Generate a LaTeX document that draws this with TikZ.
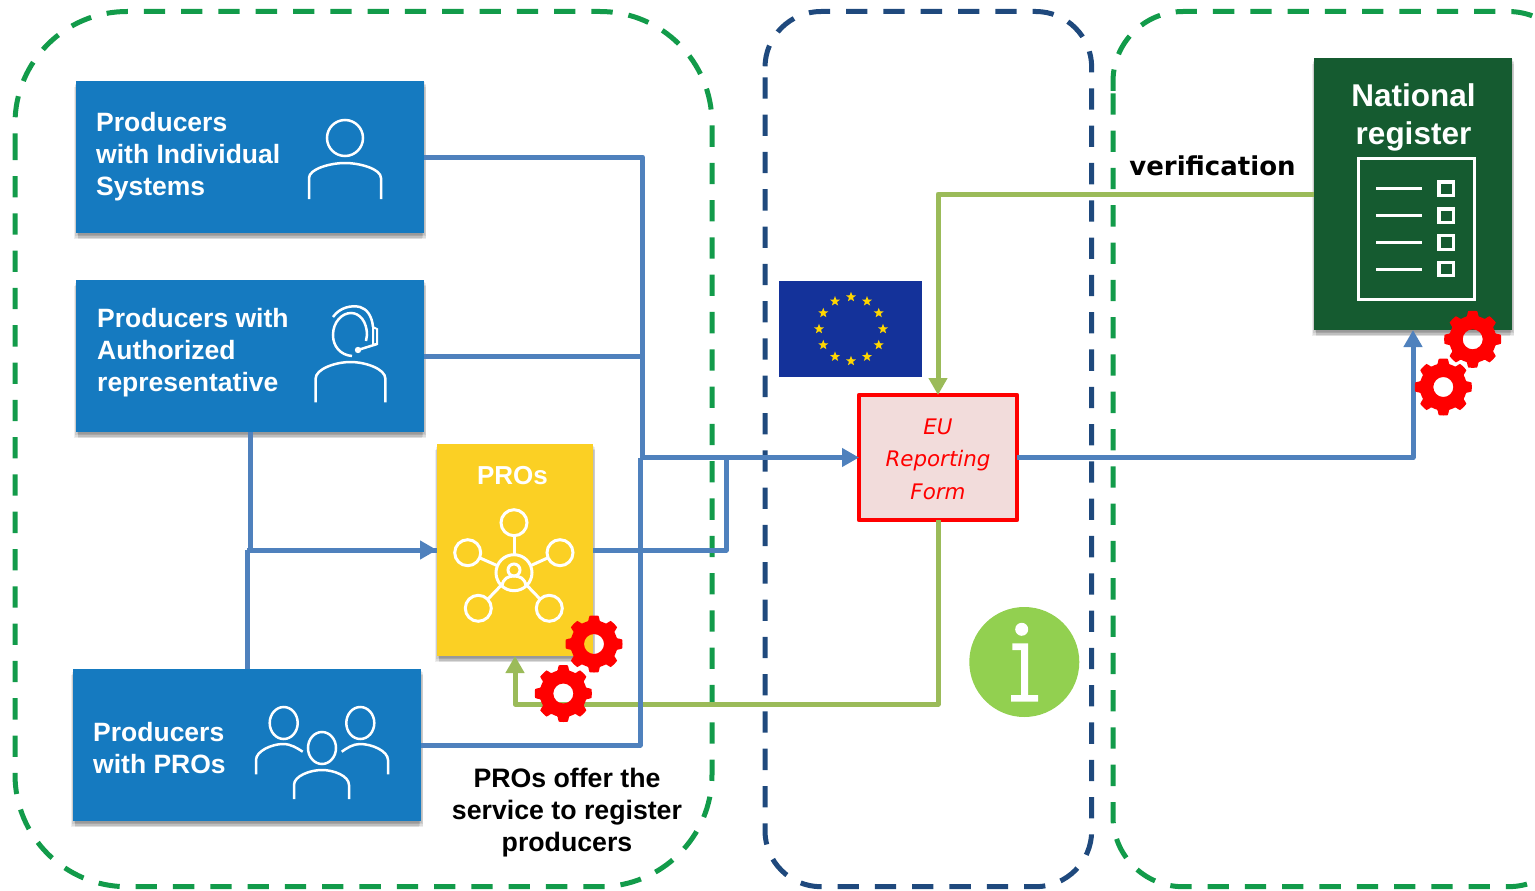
\documentclass[tikz,border=0pt]{standalone}
\usepackage{fontspec}
\setmainfont{Liberation Sans}
\newfontfamily\dejavu{DejaVu Sans}
\usetikzlibrary{arrows.meta,shadows,shapes.geometric,calc}
\definecolor{boxblue}{HTML}{157AC0}
\definecolor{lineblue}{HTML}{4F81BD}
\definecolor{linegreen}{HTML}{9BBB59}
\definecolor{dashgreen}{HTML}{129B4A}
\definecolor{dashnavy}{HTML}{1F497D}
\definecolor{proyellow}{HTML}{FBD024}
\definecolor{natgreen}{HTML}{155B30}
\definecolor{flagblue}{HTML}{14329A}
\definecolor{infogreen}{HTML}{92D050}
\definecolor{formfill}{HTML}{F2DCDB}
\definecolor{stargold}{HTML}{FFD600}
\tikzset{
  frame/.style={line width=5pt,dash pattern=on 21.3pt off 16pt},
  softlayer/.style 2 args={general shadow={shadow xshift=#1pt,shadow yshift=#2pt,fill=black,opacity=.07}},
  shadowed/.style={softlayer={2}{-6},softlayer={-2}{-6},softlayer={2}{-4.5},softlayer={-1.5}{-4.5},softlayer={1.5}{-3},softlayer={-1}{-3},softlayer={.5}{-1.5}},
  panel/.style={shadowed,inner sep=0pt,outer sep=0pt},
  bluebox/.style={panel,fill=boxblue,minimum width=348pt,minimum height=152pt},
  boxtext/.style={text=white,font=\fontsize{26.5}{32}\selectfont\bfseries,align=left,inner sep=0pt},
  icon/.style={draw=white,line width=2.5pt},
  bluewire/.style={draw=lineblue,line width=5pt,line join=round},
  greenwire/.style={draw=linegreen,line width=5pt,line join=round},
  tipped/.style={-{Triangle[length=17pt,width=18pt]}},
}
\newcommand{\bust}[4]{% cx, top, xscale, yscale
  \draw[icon,shift={(#1,#2)},xscale=#3,yscale=#4] (-36,36) -- (-36,15) .. controls (-36,6) and (-15,0) .. (0,0) .. controls (15,0) and (36,6) .. (36,15) -- (36,36);}
\newcommand{\gearat}[2]{%
  \fill[red,even odd rule,shift={(#1,#2)}] plot[smooth cycle,samples=160,domain=0:357.75] (\x:{23.5+5*min(1,max(0,1.5*cos(8*\x)+.6))}) (0,0) circle[radius=10];}
\begin{document}
\begin{tikzpicture}[x=1pt,y=-1pt]
\useasboundingbox (0,0) rectangle (1535,891);
% dashed frames
\draw[frame,dashgreen,rounded corners=112pt] (15,138.7) -- (15,886.7) -- (712,886.7) -- (712,11.5) -- (15,11.5) -- (15,138.7);
\draw[frame,dashnavy,rounded corners=56pt] (765,77.3) -- (765,886.7) -- (1091.7,886.7) -- (1091.7,11.5) -- (765,11.5) -- (765,77.3);
\draw[frame,dashgreen,rounded corners=70pt] (1113,93.3) -- (1113,886.7) -- (1578,886.7) -- (1578,11.5) -- (1113,11.5) -- (1113,93.3);
% boxes
\node[bluebox] (a) at (250,157) {};
\node[bluebox] (b) at (250,356) {};
\node[bluebox] (c) at (247,745) {};
\node[panel,fill=proyellow,minimum width=156pt,minimum height=212pt] (p) at (515,550) {};
\node[panel,fill=natgreen,minimum width=198pt,minimum height=272pt] (n) at (1413,194) {};
\node[inner sep=0pt,outer sep=0pt,fill=formfill,draw=red,line width=4.7pt,line join=round,minimum width=158pt,minimum height=125pt] (f) at (938,457.5) {};
% junctions
\coordinate (j1) at (642.5,457.5);
\coordinate (j2) at (640,457.5);
\coordinate (j3) at (726,457.5);
\coordinate (j4) at (247,550);
\coordinate (j5) at (938,704);
% connectors
\draw[greenwire,tipped] (n.west) -| (f.north);
\draw[greenwire,tipped] (f.south) -- (j5) -| (p.south);
\draw[bluewire] (a.east) -| (j1);
\draw[bluewire] (b.east) -| (j1);
\draw[bluewire] (b.south) |- (p.west);
\draw[bluewire] (c.north) -- (j4);
\draw[bluewire,tipped] (j4) -- (p.west);
\draw[bluewire] (c.east) -| (j2);
\draw[bluewire,tipped] (j2) -- (f.west);
\draw[bluewire] (p.east) -| (j3);
\draw[bluewire,tipped] (f.east) -| (n.south);
% labels
\node[boxtext,anchor=west] (at) at (96,157) {Producers\\with Individual\\Systems};
\node[boxtext,anchor=west] (bt) at (97,352.5) {Producers with\\Authorized\\representative};
\node[boxtext,anchor=west] (ct) at (93,748) {Producers\\with PROs};
\node[text=white,font=\fontsize{26}{32}\selectfont\bfseries,inner sep=0pt] (pt) at (512.5,476) {PROs};
\node[text=white,font=\fontsize{31.5}{38.5}\selectfont\bfseries,align=center,inner sep=0pt] (nt) at (1413.5,117.5) {National\\register};
\node[text=black,font=\fontsize{26.7}{32}\selectfont\bfseries,align=center,inner sep=0pt] (note) at (567,813) {PROs offer the\\service to register\\producers};
\node[text=black,font=\dejavu\fontsize{26}{32}\selectfont\bfseries,inner sep=0pt] (ver) at (1212.5,165.5) {verification};
\node[text=red,font=\dejavu\fontsize{21.4}{32.5}\selectfont\itshape,align=center,inner sep=0pt] (ft) at (938,459) {EU\\Reporting\\Form};
% person icon
\draw[icon] (345,138) circle[radius=18];
\bust{345}{163}{1}{1}
% headset icon
\bust{350.5}{362}{.97}{1.12}
\draw[icon] (352,356) .. controls (340,355) and (333,346) .. (333,335) .. controls (333,322) and (342,313) .. (351,313) .. controls (360,313) and (367,322) .. (367,335) -- (366,341);
\draw[icon] (333,317) .. controls (340,307) and (352,305) .. (360,307) .. controls (367,309) and (372,316) .. (373,327);
\draw[icon,line width=2pt] (373,327) -- (377,329) -- (377,344) -- (373,345) -- cycle;
\draw[icon] (358,350) -- (377,344);
\fill[white] (358,350) circle[radius=3.2];
% group icon
\draw[icon] (283.7,723) ellipse[x radius=14,y radius=16];
\draw[icon] (360.3,723) ellipse[x radius=14,y radius=16];
\draw[icon] (322,748) ellipse[x radius=14,y radius=16];
\draw[icon] (256,774.3) -- (256,760) .. controls (256,751) and (272,744) .. (283,744) .. controls (291,744) and (297,748) .. (302.7,751.7);
\draw[icon] (341.7,751.7) .. controls (347,748) and (353,744) .. (360,744) .. controls (372,744) and (388,751) .. (388,760) -- (388,774.3);
\draw[icon] (294,799) -- (294,785) .. controls (294,776) and (310,770) .. (322,770) .. controls (334,770) and (349,776) .. (349,785) -- (349,799);
% PROs icon
\begin{scope}[icon,line width=3pt]
\draw (514,572.7) circle[radius=18];
\draw (514,522.7) circle[radius=13];
\draw (467.7,552.7) circle[radius=13];
\draw (560,552.7) circle[radius=13];
\draw (478.3,608.3) circle[radius=13];
\draw (549.3,608.3) circle[radius=13];
\draw (514,535.7) -- (514,554.7);
\draw (480,558) -- (497,565.5);
\draw (547.5,558) -- (531,565.5);
\draw (488,599) -- (501,585.5);
\draw (540,599) -- (527,585.5);
\draw (514,570) circle[radius=6];
\draw (502,586) .. controls (503,578) and (509,576) .. (514,576) .. controls (519,576) and (525,578) .. (526,586);
\end{scope}
% national register icon
\draw[icon,line width=3pt] (1358,158.5) rectangle (1474,299);
\foreach \ly in {188.7,215.7,242.3,269}{
  \draw[icon,line width=3pt] (1376,\ly) -- (1421.7,\ly);
  \draw[icon,line width=3.2pt] (1439,\ly-6.8) rectangle (1453.5,\ly+6.8);
}
% flag
\fill[flagblue] (779,281) rectangle (922,377);
\foreach \i in {0,30,...,330}{
  \node[star,star points=5,star point ratio=2.4,fill=stargold,inner sep=0pt,minimum size=10.5pt] (s\i) at ($(851,329)+(\i:32)$) {};
}
% info
\fill[infogreen] (1024.3,662) circle[radius=55];
\fill[white] (1021.7,629.3) circle[radius=6.5];
\fill[white] (1012.3,643.3) -- (1028,643.3) -- (1028,695) -- (1038,695) -- (1038,701.7) -- (1011,701.7) -- (1011,695) -- (1021,695) -- (1021,650) -- (1012.3,650) -- cycle;
% gears
\gearat{594}{644}
\gearat{563.3}{693.5}
\gearat{1472.7}{339.3}
\gearat{1443.3}{387}
\end{tikzpicture}
\end{document}
